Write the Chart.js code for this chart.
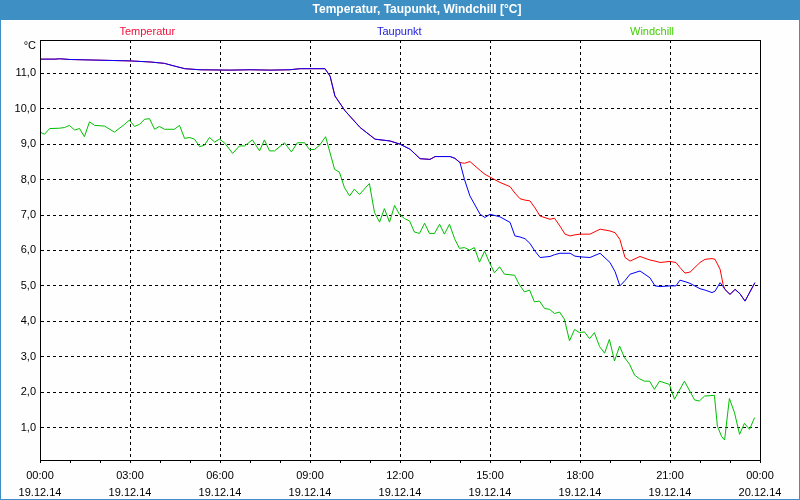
<!DOCTYPE html>
<html>
<head>
<meta charset="utf-8">
<script src="https://cdn.jsdelivr.net/npm/chart.js@4"></script>
<style>
  body { margin: 0; background: #fdfefd; }
</style>
</head>
<body>
<canvas id="myChart" width="800" height="500"></canvas>
<script>
// weather chart: Temperatur / Taupunkt / Windchill over one day
const chartTitle = 'Temperatur, Taupunkt, Windchill [°C]';
const unitLabel = '°C';
const seriesNames = ['Temperatur', 'Taupunkt', 'Windchill'];

const timeLabels = ['00:00','03:00','06:00','09:00','12:00','15:00','18:00','21:00','00:00'];
const dateLabels = ['19.12.14','19.12.14','19.12.14','19.12.14','19.12.14','19.12.14','19.12.14','19.12.14','20.12.14'];
const yTicks = [1,2,3,4,5,6,7,8,9,10,11];

// hours since 00:00 for temperature + dew point
const tHours = [0,0.5,0.65,1,2,3,3.67,4.15,4.5,4.83,5.33,6.33,7,7.67,8.33,8.67,9.5,9.67,9.83,10.17,
  10.67,11.17,11.67,12,12.33,12.67,13,13.17,13.67,13.83,14,14.15,14.33,14.67,14.83,15,15.33,15.67,15.83,16,
  16.17,16.33,16.5,16.67,17,17.15,17.33,17.5,17.67,17.83,18,18.33,18.67,19,19.17,19.33,19.5,19.67,20,20.33,
  20.5,20.67,21,21.2,21.33,21.5,21.67,22,22.17,22.4,22.5,22.67,22.77,22.83,23,23.17,23.33,23.5,23.83];

const temperatur = [11.40,11.40,11.41,11.39,11.37,11.35,11.32,11.28,11.20,11.13,11.10,11.09,11.10,11.09,11.10,11.13,11.13,10.92,10.36,9.94,
  9.47,9.14,9.09,9.00,8.86,8.59,8.57,8.65,8.65,8.60,8.48,8.46,8.51,8.26,8.15,8.07,7.92,7.80,7.62,7.46,
  7.42,7.40,7.20,6.97,6.88,6.91,6.69,6.46,6.41,6.44,6.46,6.46,6.60,6.55,6.50,6.31,5.80,5.70,5.83,5.73,
  5.70,5.66,5.69,5.66,5.52,5.36,5.39,5.66,5.75,5.77,5.75,5.47,5.04,4.90,4.76,4.90,4.78,4.57,5.09];

const taupunkt = [11.40,11.40,11.41,11.39,11.37,11.35,11.32,11.28,11.20,11.13,11.10,11.09,11.10,11.09,11.10,11.13,11.13,10.92,10.36,9.94,
  9.47,9.14,9.09,9.00,8.86,8.59,8.57,8.65,8.65,8.60,8.48,8.00,7.54,7.02,6.93,7.02,6.95,6.79,6.41,6.38,
  6.33,6.20,5.98,5.80,5.83,5.88,5.92,5.92,5.92,5.84,5.82,5.80,5.92,5.66,5.40,5.00,5.15,5.33,5.42,5.23,
  5.00,4.98,5.00,5.00,5.16,5.12,5.07,4.92,4.88,4.81,4.85,5.09,4.98,4.90,4.76,4.90,4.78,4.57,5.09];

// hours since 00:00 for windchill
const wHours = [0,0.15,0.32,0.65,0.82,0.98,1.15,1.32,1.48,1.65,1.82,2.15,2.48,2.82,2.98,3.15,3.32,3.48,3.65,3.82,
  3.98,4.15,4.48,4.65,4.82,4.98,5.15,5.32,5.48,5.65,5.82,5.98,6.15,6.42,6.65,6.82,7.08,7.32,7.48,7.65,
  7.82,8.15,8.38,8.58,8.82,8.98,9.15,9.32,9.52,9.82,9.98,10.15,10.32,10.48,10.65,10.98,11.15,11.32,11.48,11.65,
  11.82,11.98,12.15,12.32,12.48,12.65,12.82,12.98,13.15,13.32,13.48,13.65,13.82,13.98,14.15,14.32,14.48,14.65,14.82,14.98,
  15.15,15.32,15.48,15.82,15.98,16.15,16.32,16.48,16.65,16.82,16.98,17.15,17.32,17.48,17.65,17.82,17.98,18.15,18.32,18.48,
  18.65,18.82,18.98,19.15,19.32,19.48,19.65,19.82,19.98,20.15,20.32,20.48,20.65,20.98,21.15,21.48,21.82,21.98,22.15,22.48,
  22.58,22.72,22.82,22.98,23.15,23.32,23.48,23.65,23.82];

const windchill = [9.34,9.28,9.44,9.45,9.47,9.53,9.40,9.44,9.21,9.63,9.53,9.51,9.34,9.56,9.68,9.50,9.56,9.70,9.72,9.42,
  9.50,9.42,9.42,9.53,9.16,9.19,9.14,8.93,8.97,9.19,9.06,9.14,9.04,8.74,8.95,8.95,9.12,8.81,9.12,8.81,
  8.81,9.04,8.78,9.04,9.04,8.85,8.85,8.97,9.21,8.29,8.21,7.77,7.54,7.73,7.58,7.89,7.07,6.80,7.18,6.80,
  7.27,7.02,6.90,6.83,6.52,6.48,6.77,6.48,6.48,6.74,6.46,6.74,6.33,6.06,6.08,6.01,6.08,5.67,5.98,5.66,
  5.37,5.54,5.33,5.30,5.03,4.83,4.88,4.55,4.57,4.36,4.34,4.22,4.26,4.06,3.45,3.77,3.68,3.70,3.51,3.68,
  3.29,3.10,3.49,2.88,3.30,2.98,2.79,2.48,2.38,2.31,2.31,2.08,2.31,2.22,1.80,2.31,1.78,1.75,1.89,1.91,
  1.04,0.75,0.65,1.82,1.42,0.81,1.12,0.95,1.28];

const lineColors = ['#ff0000', '#0000ff', '#00c000'];
const nameColors = ['#f0103c', '#2020e0', '#40d000'];

const hourTicks = Array.from({ length: 25 }, (_, i) => i);
const FONT = 'Liberation Sans, Arial, sans-serif';

function pts(xs, ys) {
  return xs.map((h, i) => ({ x: h, y: ys[i] }));
}

// background, title bar, frame and series names
const framePlugin = {
  id: 'frame',
  beforeDraw(chart) {
    const ctx = chart.ctx;
    ctx.save();
    ctx.fillStyle = '#fdfefd';
    ctx.fillRect(0, 0, chart.width, chart.height);
    ctx.fillStyle = '#3d8fc4';
    ctx.fillRect(0, 0, chart.width, 20);
    ctx.strokeStyle = '#3d8fc4';
    ctx.lineWidth = 1;
    ctx.strokeRect(0.5, 0.5, chart.width - 1, chart.height - 1);
    ctx.fillStyle = '#ffffff';
    ctx.font = 'bold 12px ' + FONT;
    ctx.textAlign = 'center';
    ctx.textBaseline = 'middle';
    ctx.fillText(chartTitle, 417, 10);
    ctx.restore();
  },
  afterDraw(chart) {
    const ctx = chart.ctx;
    const a = chart.chartArea;
    ctx.save();
    ctx.strokeStyle = '#000';
    ctx.lineWidth = 1;
    ctx.strokeRect(a.left + 0.5, a.top + 0.5, a.right - a.left, a.bottom - a.top);
    ctx.font = '11px ' + FONT;
    ctx.textBaseline = 'middle';
    ctx.textAlign = 'center';
    const spots = [0.149, 0.499, 0.85];
    seriesNames.forEach((n, i) => {
      ctx.fillStyle = nameColors[i];
      ctx.fillText(n, a.left + spots[i] * (a.right - a.left), a.top - 8);
    });
    ctx.fillStyle = '#000';
    ctx.textAlign = 'right';
    ctx.fillText(unitLabel, a.left - 4, a.top + 6);
    ctx.restore();
  }
};

const ctx = document.getElementById('myChart').getContext('2d');
const myChart = new Chart(ctx, {
  type: 'line',
  data: {
    datasets: [
      { label: seriesNames[0], data: pts(tHours, temperatur), borderColor: lineColors[0], order: 1 },
      { label: seriesNames[1], data: pts(tHours, taupunkt), borderColor: lineColors[1], order: 0 },
      { label: seriesNames[2], data: pts(wHours, windchill), borderColor: lineColors[2], order: 2 }
    ]
  },
  options: {
    responsive: false,
    animation: false,
    layout: { padding: { top: 40, right: 40, left: 0, bottom: 0 } },
    elements: {
      point: { radius: 0 },
      line: { borderWidth: 1, tension: 0, fill: false }
    },
    plugins: {
      legend: { display: false },
      tooltip: { enabled: false },
      title: { display: false }
    },
    scales: {
      x: {
        type: 'linear',
        min: 0,
        max: 24,
        afterBuildTicks: s => { s.ticks = hourTicks.map(v => ({ value: v })); },
        afterFit: s => { s.height = 40; },
        ticks: {
          autoSkip: false,
          maxRotation: 0,
          padding: 5,
          color: '#000',
          font: { family: FONT, size: 11, lineHeight: 1.5 },
          callback: v => (v % 3 === 0 ? [timeLabels[v / 3], dateLabels[v / 3]] : '')
        },
        grid: {
          color: c => (c.tick && c.tick.value % 3 === 0 ? '#000' : 'rgba(0,0,0,0)'),
          tickColor: '#000',
          tickLength: 3,
          lineWidth: 1
        },
        border: { color: '#000', dash: [3, 3] }
      },
      y: {
        min: 0.085,
        max: 11.94,
        afterBuildTicks: s => { s.ticks = yTicks.map(v => ({ value: v })); },
        afterFit: s => { s.width = 40; },
        ticks: {
          padding: 4,
          color: '#000',
          font: { family: FONT, size: 11 },
          callback: v => v.toFixed(1).replace('.', ',')
        },
        grid: { color: '#000', drawTicks: false, lineWidth: 1 },
        border: { color: '#000', dash: [3, 3] }
      }
    }
  },
  plugins: [framePlugin]
});
</script>
</body>
</html>
